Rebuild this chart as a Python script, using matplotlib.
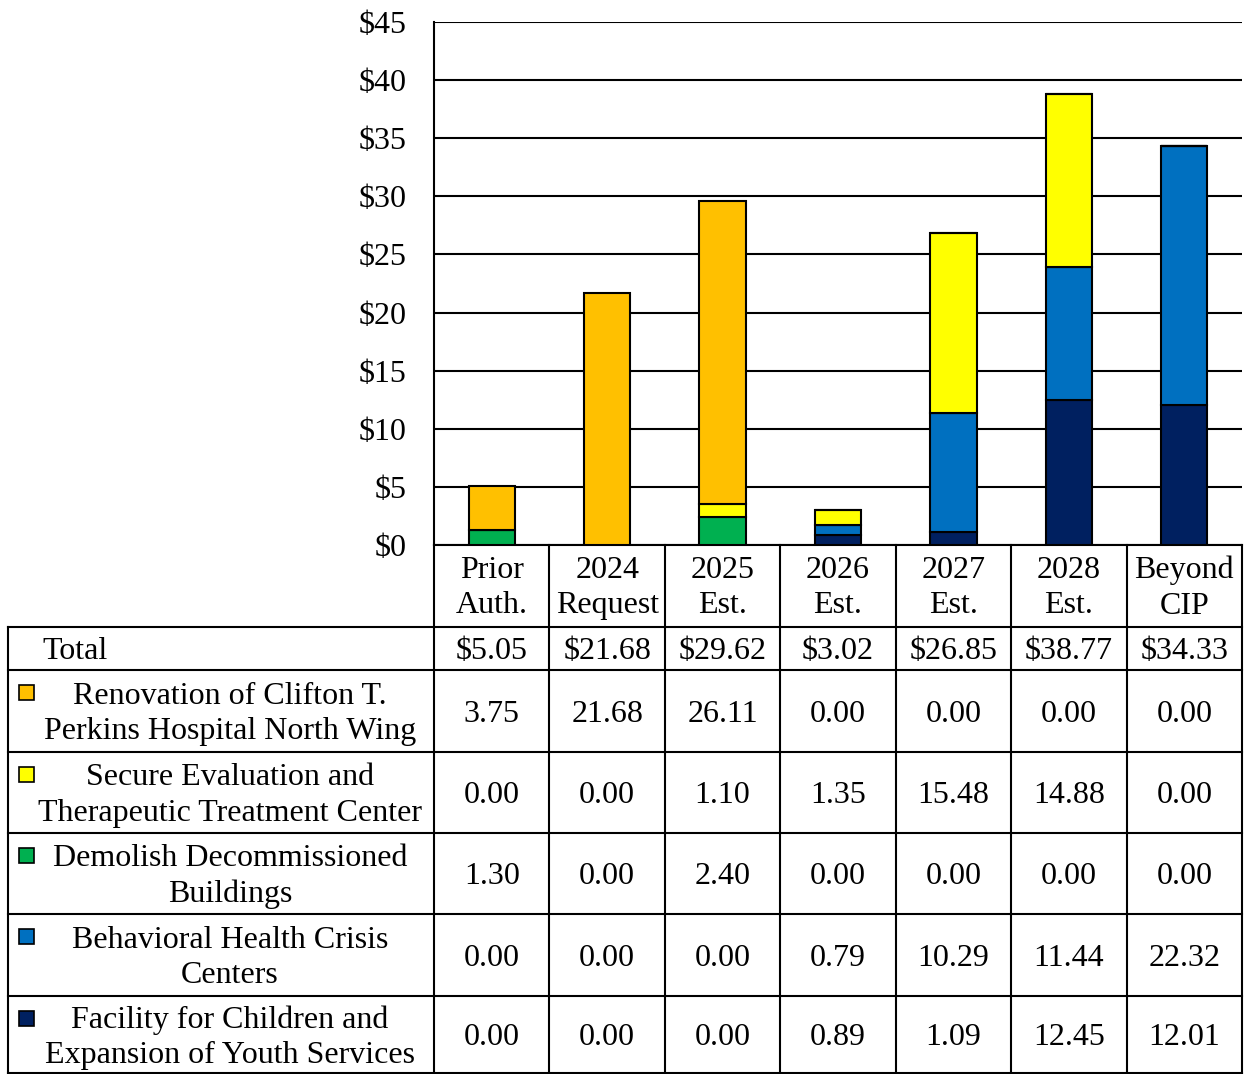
import matplotlib
matplotlib.use("Agg")
import matplotlib.pyplot as plt
from matplotlib.lines import Line2D
from matplotlib.patches import Rectangle
import numpy as np

plt.rcParams["font.family"] = ["Liberation Serif", "DejaVu Serif"]

categories = ["Prior\nAuth.", "2024\nRequest", "2025\nEst.", "2026\nEst.",
              "2027\nEst.", "2028\nEst.", "Beyond\nCIP"]
totals = [5.05, 21.68, 29.62, 3.02, 26.85, 38.77, 34.33]

# rows as they appear in the table (top to bottom)
project_names = [
    "Renovation of Clifton T.\nPerkins Hospital North Wing",
    "Secure Evaluation and\nTherapeutic Treatment Center",
    "Demolish Decommissioned\nBuildings",
    "Behavioral Health Crisis\nCenters",
    "Facility for Children and\nExpansion of Youth Services",
]
renovation = [3.75, 21.68, 26.11, 0.00, 0.00, 0.00, 0.00]
secure_eval = [0.00, 0.00, 1.10, 1.35, 15.48, 14.88, 0.00]
demolish = [1.30, 0.00, 2.40, 0.00, 0.00, 0.00, 0.00]
behavioral = [0.00, 0.00, 0.00, 0.79, 10.29, 11.44, 22.32]
facility = [0.00, 0.00, 0.00, 0.89, 1.09, 12.45, 12.01]
series = [renovation, secure_eval, demolish, behavioral, facility]
colors = ["#FFC000", "#FFFF00", "#00B050", "#0070C0", "#002060"]

W, H = 1246, 1074
fig = plt.figure(figsize=(W / 100, H / 100), dpi=100)


def fx(px):
    return px / W


def fy(py):
    return 1 - py / H


fs = 23
ax_left, ax_right, ax_top, ax_bot = 434, 1242, 22, 545
ax = fig.add_axes([fx(ax_left), fy(ax_bot), fx(ax_right - ax_left), (ax_bot - ax_top) / H])

x = np.arange(len(categories))
bottom = np.zeros(len(categories))
# stack from bottom: facility, behavioral, demolish, secure, renovation
for vals, col in zip(series[::-1], colors[::-1]):
    ax.bar(x, vals, 0.4, bottom=bottom, color=col, edgecolor="black", linewidth=1.5, zorder=3)
    bottom += np.array(vals)

ax.set_xlim(-0.5, len(categories) - 0.5)
ax.set_ylim(0, 45)
ax.set_yticks(range(0, 50, 5))
ax.set_yticklabels([f"${v}" for v in range(0, 50, 5)], fontsize=fs)
ax.yaxis.grid(True, color="black", linewidth=1.5, zorder=0)
ax.set_xticks([])
ax.tick_params(axis="y", length=0, pad=20)
for s in ["top", "right"]:
    ax.spines[s].set_visible(False)
ax.spines["left"].set_linewidth(1.5)
ax.spines["bottom"].set_linewidth(1.5)

# ---- data table drawn below the chart ----
col_edges = np.linspace(ax_left, ax_right, len(categories) + 1)
col_centers = (col_edges[:-1] + col_edges[1:]) / 2
table_left = 8
row_edges = [545, 627, 670, 752, 833, 914, 996, 1073]
lw = 1.5


def hline(y, x0, x1):
    fig.add_artist(Line2D([fx(x0), fx(x1)], [fy(y), fy(y)], color="black", lw=lw))


def vline(xp, y0, y1):
    fig.add_artist(Line2D([fx(xp), fx(xp)], [fy(y0), fy(y1)], color="black", lw=lw))


# header region (only over the columns)
for xe in col_edges:
    vline(xe, row_edges[0], row_edges[-1])
vline(table_left, row_edges[1], row_edges[-1])
for ye in row_edges[1:]:
    hline(ye, table_left, ax_right)

for cx, lab in zip(col_centers, categories):
    fig.text(fx(cx), fy((row_edges[0] + row_edges[1]) / 2 + 2), lab, ha="center",
             va="center", fontsize=fs, linespacing=1.3)

# total row
ty = fy((row_edges[1] + row_edges[2]) / 2 + 3)
fig.text(fx(42), ty, "Total", ha="left", va="center", fontsize=fs)
for cx, t in zip(col_centers, totals):
    fig.text(fx(cx), ty, f"${t:.2f}", ha="center", va="center", fontsize=fs)

# project rows
for i, (name, vals, col) in enumerate(zip(project_names, series, colors)):
    y0, y1 = row_edges[i + 2], row_edges[i + 3]
    ym = (y0 + y1) / 2 + 3
    fig.text(fx(230), fy(ym), name, ha="center", va="center", fontsize=fs,
             multialignment="center", linespacing=1.28)
    fig.add_artist(Rectangle((fx(19), fy(y0 + 30)), fx(15), 15 / H, facecolor=col,
                             edgecolor="black", lw=1.2, transform=fig.transFigure))
    for cx, v in zip(col_centers, vals):
        fig.text(fx(cx), fy(ym), f"{v:.2f}", ha="center", va="center", fontsize=fs)

fig.savefig("out.png", dpi=100)
